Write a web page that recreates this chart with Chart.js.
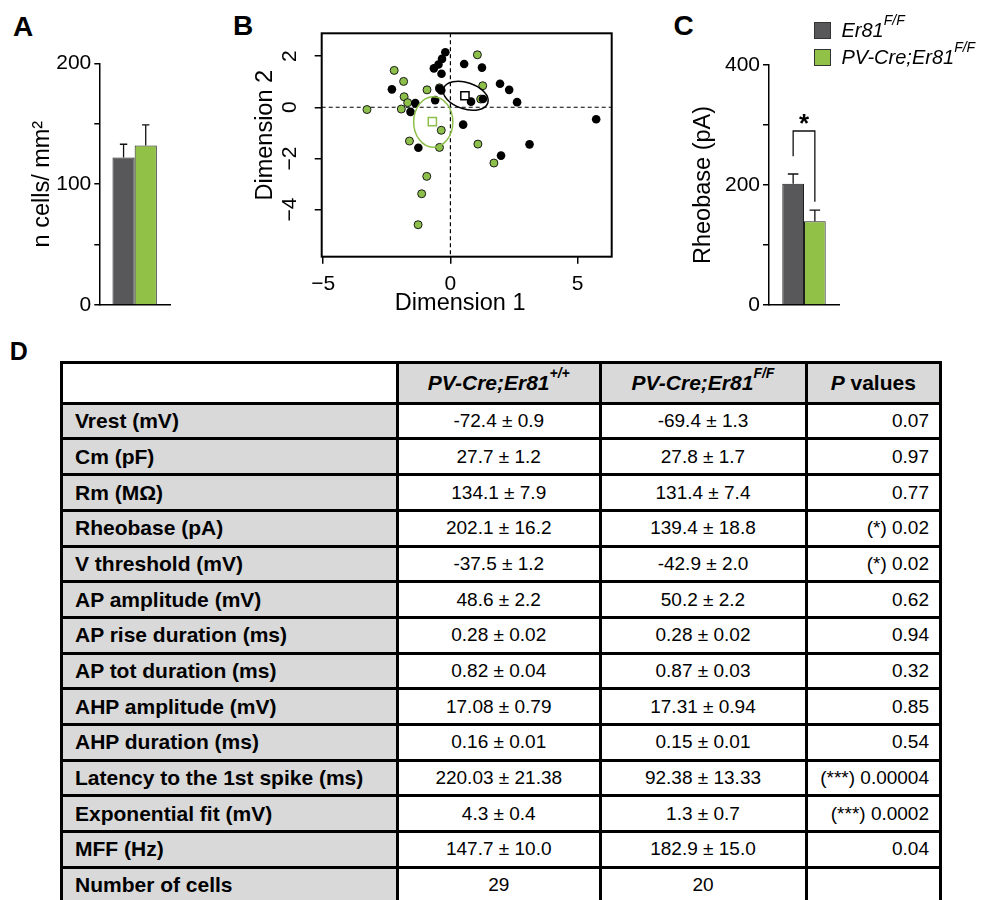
<!DOCTYPE html>
<html>
<head>
<meta charset="utf-8">
<script src="https://cdn.jsdelivr.net/npm/chart.js@4.4.1/dist/chart.umd.min.js"></script>
<style>
  html, body { margin:0; padding:0; background:#fff; width:990px; height:900px; overflow:hidden;
    font-family:"Liberation Sans", Arial, Helvetica, sans-serif; color:#000; }
  canvas { position:absolute; }
  .letter { position:absolute; font-weight:bold; font-size:28px; line-height:28px; }
  .legsq { position:absolute; width:17px; height:17px; box-sizing:border-box; border:1px solid #333; }
  .legtx { position:absolute; font-style:italic; font-size:20px; line-height:20px; white-space:nowrap; }
  .sup { font-size:14px; position:relative; top:-12px; }
  #tbl { position:absolute; left:60px; top:360.8px; display:grid; gap:3px; padding:3px; background:#000;
    grid-template-columns: 333px 199.5px 203px 131.5px; grid-template-rows: 38px repeat(14, 32.7px); }
  #tbl div { background:#fff; display:flex; align-items:center; white-space:nowrap; overflow:hidden; }
  #tbl .lab { background:#d9d9d9; font-weight:bold; font-size:21px; padding-left:12px; }
  #tbl .hd { background:#d9d9d9; font-weight:bold; font-style:italic; font-size:21px; justify-content:center; }
  #tbl .hd .sup { font-size:14px; top:-10px; }
  #tbl .val { font-size:19px; justify-content:center; }
  #tbl .pv { font-size:19px; justify-content:flex-end; padding-right:10px; }
</style>
</head>
<body>
<div class="letter" style="left:13px;top:13px">A</div>
<div class="letter" style="left:233px;top:11.5px">B</div>
<div class="letter" style="left:673.5px;top:11.5px">C</div>
<div class="letter" style="left:9.7px;top:339.4px;font-size:25px;line-height:25px">D</div>

<canvas id="cA" width="220" height="330" style="left:0;top:0"></canvas>
<canvas id="cB" width="400" height="330" style="left:220px;top:0"></canvas>
<canvas id="cC" width="330" height="330" style="left:660px;top:0"></canvas>

<div class="legsq" style="left:814px;top:21.5px;background:#58585a"></div>
<div class="legsq" style="left:814px;top:49px;background:#92c148"></div>
<div class="legtx" style="left:841.5px;top:20.4px">Er81<span class="sup">F/F</span></div>
<div class="legtx" style="left:841.5px;top:47.1px">PV-Cre;Er81<span class="sup">F/F</span></div>

<div id="tbl"></div>

<script>
// ---------------- data ----------------
const groups = ['Er81F/F', 'PV-Cre;Er81F/F'];
const densityMean = [122, 132];
const densityErr = [11, 17];
const densityTicks = [0, 50, 100, 150, 200];
const densityTickLabels = [0, 100, 200];

const rheobaseMean = [202.1, 139.4];
const rheobaseErr = [16.2, 18.8];
const rheobaseTicks = [0, 100, 200, 300, 400];
const rheobaseTickLabels = [0, 200, 400];
// significance bracket (values in pA): left end, top, right end
const sigBrackets = [{ from: 0, to: 1, leftEnd: 248, top: 290, rightEnd: 172, label: '*' }];

// panel B : MDS coordinates [Dimension 1, Dimension 2]
const ctrlCells = [
  [-0.20, 2.15], [-0.33, 1.89], [-0.47, 1.67], [-0.65, 1.52], [-0.35, 1.31], [0.54, 1.69],
  [1.24, 1.55], [-2.30, 0.70], [-0.43, 0.72], [-0.36, 0.66], [-0.60, 0.28], [-1.38, 0.16],
  [-1.57, -0.18], [0.81, 0.22], [1.28, 0.32], [1.95, 0.92], [2.31, 0.68], [2.62, 0.20],
  [0.50, -0.68], [-1.26, -1.58], [3.11, -1.45], [1.99, -1.89], [5.73, -0.47]
];
const koCells = [
  [1.06, 2.05], [-2.21, 1.44], [-1.84, 1.01], [-0.92, 0.68], [1.27, 0.84], [-1.82, 0.41],
  [-1.68, 0.18], [-1.93, -0.07], [-3.28, -0.09], [1.19, 0.32], [-0.43, 0.76], [-0.36, -0.90],
  [-1.61, -1.32], [-0.43, -1.57], [1.08, -1.44], [1.71, -2.18], [-0.93, -2.70], [-1.13, -3.38],
  [-1.27, -4.59]
];
const centroids = [[0.57, 0.45], [-0.71, -0.56]];
// confidence ellipses: centre, semi-axes (data units), tilt (deg)
const ellipses = [
  { cx: 0.60, cy: 0.45, a: 0.915, b: 0.514, angle: -18 },
  { cx: -0.675, cy: -0.575, a: 0.77, b: 0.985, angle: 0 }
];
const dimTicksX = [-5, 0, 5];
const dimTicksY = [-4, -2, 0, 2];
const dimRangeX = [-5.06, 6.34];
const dimRangeY = [-5.84, 2.89];

// panel D table
const tableHeader = ['', 'PV-Cre;Er81|+/+', 'PV-Cre;Er81|F/F', 'P values'];
const rowLabels = ['Vrest (mV)', 'Cm (pF)', 'Rm (MΩ)', 'Rheobase (pA)', 'V threshold (mV)', 'AP amplitude (mV)',
  'AP rise duration (ms)', 'AP tot duration (ms)', 'AHP amplitude (mV)', 'AHP duration (ms)',
  'Latency to the 1st spike (ms)', 'Exponential fit (mV)', 'MFF (Hz)', 'Number of cells'];
const ctrlValues = ['-72.4 ± 0.9', '27.7 ± 1.2', '134.1 ± 7.9', '202.1 ± 16.2', '-37.5 ± 1.2', '48.6 ± 2.2',
  '0.28 ± 0.02', '0.82 ± 0.04', '17.08 ± 0.79', '0.16 ± 0.01', '220.03 ± 21.38', '4.3 ± 0.4', '147.7 ± 10.0', '29'];
const koValues = ['-69.4 ± 1.3', '27.8 ± 1.7', '131.4 ± 7.4', '139.4 ± 18.8', '-42.9 ± 2.0', '50.2 ± 2.2',
  '0.28 ± 0.02', '0.87 ± 0.03', '17.31 ± 0.94', '0.15 ± 0.01', '92.38 ± 13.33', '1.3 ± 0.7', '182.9 ± 15.0', '20'];
const pValues = ['0.07', '0.97', '0.77', '(*) 0.02', '(*) 0.02', '0.62', '0.94', '0.32', '0.85', '0.54',
  '(***) 0.00004', '(***) 0.0002', '0.04', ''];

// ---------------- styles ----------------
const DARK = '#58585a';
const GREEN = '#92c148';
const GREEN_PT = '#8dc04a';
const groupColors = [DARK, GREEN];
const FAM = '"Liberation Sans", Arial, Helvetica, sans-serif';
Chart.defaults.font.family = FAM;
Chart.defaults.color = '#000';

// ---------------- plugins ----------------
const errorBars = {
  id: 'errorBars',
  afterDatasetsDraw(chart, args, opts) {
    const ctx = chart.ctx, y = chart.scales.y;
    chart.data.datasets.forEach((ds, i) => {
      const meta = chart.getDatasetMeta(i);
      meta.data.forEach((bar, j) => {
        const yTop = y.getPixelForValue(ds.data[j] + ds.err[j]);
        ctx.save();
        ctx.strokeStyle = '#111'; ctx.lineWidth = 1.3;
        ctx.beginPath();
        ctx.moveTo(bar.x, bar.y); ctx.lineTo(bar.x, yTop);
        ctx.moveTo(bar.x - opts.cap, yTop); ctx.lineTo(bar.x + opts.cap, yTop);
        ctx.stroke();
        ctx.restore();
      });
    });
  }
};

const sigPlugin = {
  id: 'sigBracket',
  afterDatasetsDraw(chart, args, opts) {
    const ctx = chart.ctx, y = chart.scales.y;
    (opts.brackets || []).forEach(b => {
      const x1 = chart.getDatasetMeta(b.from).data[0].x;
      const x2 = chart.getDatasetMeta(b.to).data[0].x;
      const yT = y.getPixelForValue(b.top);
      ctx.save();
      ctx.strokeStyle = '#111'; ctx.lineWidth = 1.3;
      ctx.beginPath();
      ctx.moveTo(x1, y.getPixelForValue(b.leftEnd));
      ctx.lineTo(x1, yT); ctx.lineTo(x2, yT);
      ctx.lineTo(x2, y.getPixelForValue(b.rightEnd));
      ctx.stroke();
      ctx.fillStyle = '#000';
      ctx.font = 'bold 26px ' + FAM;
      ctx.textAlign = 'center'; ctx.textBaseline = 'alphabetic';
      ctx.fillText(b.label, (x1 + x2) / 2, yT + 1);
      ctx.restore();
    });
  }
};

const scatterDecor = {
  id: 'scatterDecor',
  beforeDatasetsDraw(chart) {
    const {ctx, chartArea: ca, scales: {x, y}} = chart;
    ctx.save();
    ctx.strokeStyle = '#000'; ctx.lineWidth = 1.2; ctx.setLineDash([4, 3]);
    ctx.beginPath();
    const px = x.getPixelForValue(0), py = y.getPixelForValue(0);
    ctx.moveTo(px, ca.top); ctx.lineTo(px, ca.bottom);
    ctx.moveTo(ca.left, py); ctx.lineTo(ca.right, py);
    ctx.stroke();
    ctx.restore();
  },
  afterDatasetsDraw(chart, args, opts) {
    const {ctx, chartArea: ca, scales: {x, y}} = chart;
    const ux = Math.abs(x.getPixelForValue(1) - x.getPixelForValue(0));
    const uy = Math.abs(y.getPixelForValue(1) - y.getPixelForValue(0));
    ellipses.forEach((e, i) => {
      ctx.save();
      ctx.strokeStyle = opts.colors[i]; ctx.lineWidth = 1.5;
      ctx.beginPath();
      ctx.ellipse(x.getPixelForValue(e.cx), y.getPixelForValue(e.cy), e.a * ux, e.b * uy,
        -e.angle * Math.PI / 180, 0, 2 * Math.PI);
      ctx.stroke();
      ctx.restore();
    });
    ctx.save();
    ctx.strokeStyle = '#000'; ctx.lineWidth = 2;
    ctx.strokeRect(ca.left, ca.top, ca.right - ca.left, ca.bottom - ca.top);
    ctx.restore();
  }
};

// ---------------- bar chart factory ----------------
function barChart(id, means, errs, ticks, tickLabels, max, title, pad, yWidth, tickLen, cap, catPct, extraPlugins, pluginOpts) {
  return new Chart(document.getElementById(id), {
    type: 'bar',
    data: {
      labels: [''],
      datasets: groups.map((g, i) => ({
        label: g, data: [means[i]], err: [errs[i]],
        backgroundColor: groupColors[i], borderColor: '#1e1e1e', borderWidth: 1,
        barPercentage: 1, categoryPercentage: catPct
      }))
    },
    options: {
      responsive: false, animation: false, events: [],
      layout: { padding: pad },
      plugins: Object.assign({ legend: { display: false }, tooltip: { enabled: false }, errorBars: { cap } }, pluginOpts || {}),
      scales: {
        x: {
          grid: { display: false }, ticks: { display: false },
          border: { display: true, color: '#000', width: 1.5 },
          afterFit(s) { s.height = 0; }
        },
        y: {
          min: 0, max: max,
          afterBuildTicks(s) { s.ticks = ticks.map(v => ({ value: v })); },
          ticks: { autoSkip: false, padding: 3, color: '#000', font: { size: 21 },
            callback: v => tickLabels.includes(v) ? String(v) : '' },
          grid: { drawOnChartArea: false, drawTicks: true, tickLength: tickLen, color: '#000', lineWidth: 1.5 },
          border: { display: true, color: '#000', width: 1.5 },
          title: { display: true, text: title, color: '#000', font: { size: 23.5 }, padding: 0 },
          afterFit(s) { s.width = yWidth; }
        }
      }
    },
    plugins: [errorBars].concat(extraPlugins || [])
  });
}

barChart('cA', densityMean, densityErr, densityTicks, densityTickLabels, 200, 'n cells/ mm²',
  { left: 28.5, right: 50, top: 63.3, bottom: 25 }, 70.8, 5, 3.7, 0.627);

barChart('cC', rheobaseMean, rheobaseErr, rheobaseTicks, rheobaseTickLabels, 400, 'Rheobase (pA)',
  { left: 29.6, right: 151, top: 65, bottom: 25 }, 79.4, 6, 5.3, 0.62, [sigPlugin], { sigBracket: { brackets: sigBrackets } });

// ---------------- scatter (B) ----------------
const minus = v => String(v).replace('-', '\u2212');
new Chart(document.getElementById('cB'), {
  type: 'scatter',
  data: {
    datasets: [
      { label: 'centroids', data: centroids.map(p => ({ x: p[0], y: p[1] })), pointStyle: 'rect',
        pointRadius: 5.8, backgroundColor: '#fff', borderColor: ['#000', GREEN_PT], borderWidth: 1.5, order: 0 },
      { label: groups[0], data: ctrlCells.map(p => ({ x: p[0], y: p[1] })), pointRadius: 4.3,
        backgroundColor: '#000', borderColor: '#000', borderWidth: 0, order: 1 },
      { label: groups[1], data: koCells.map(p => ({ x: p[0], y: p[1] })), pointRadius: 4,
        backgroundColor: GREEN_PT, borderColor: '#1a1a1a', borderWidth: 1, order: 2 }
    ]
  },
  options: {
    responsive: false, animation: false, events: [],
    layout: { padding: { left: 31.1, right: 8.3, top: 33.3, bottom: 12.3 } },
    plugins: { legend: { display: false }, tooltip: { enabled: false }, scatterDecor: { colors: ['#000', GREEN_PT] } },
    scales: {
      x: {
        type: 'linear', min: dimRangeX[0], max: dimRangeX[1],
        afterBuildTicks(s) { s.ticks = dimTicksX.map(v => ({ value: v })); },
        ticks: { autoSkip: false, padding: 8.1, color: '#000', font: { size: 21 }, callback: minus, maxRotation: 0 },
        grid: { drawOnChartArea: false, drawTicks: true, tickLength: 7, color: '#000', lineWidth: 1.5 },
        border: { display: false },
        title: { display: true, text: 'Dimension 1  ', color: '#000', font: { size: 23.5 }, padding: 0 },
        afterFit(s) { s.height = 61; }
      },
      y: {
        type: 'linear', min: dimRangeY[0], max: dimRangeY[1],
        afterBuildTicks(s) { s.ticks = dimTicksY.map(v => ({ value: v })); },
        ticks: { autoSkip: false, padding: 12.7, color: '#000', font: { size: 21 }, callback: minus,
          minRotation: 90, maxRotation: 90, crossAlign: 'center' },
        grid: { drawOnChartArea: false, drawTicks: true, tickLength: 7, color: '#000', lineWidth: 1.5 },
        border: { display: false },
        title: { display: true, text: '   Dimension 2', color: '#000', font: { size: 23.5 }, padding: 0 },
        afterFit(s) { s.width = 70.6; }
      }
    }
  },
  plugins: [scatterDecor]
});

// ---------------- table (D) ----------------
const tbl = document.getElementById('tbl');
function cell(cls, html) { const d = document.createElement('div'); if (cls) d.className = cls; d.innerHTML = html; tbl.appendChild(d); }
tableHeader.forEach((h, i) => {
  if (i === 0) { cell('', ''); return; }
  if (h.includes('|')) { const [a, b] = h.split('|'); cell('hd', a + '<span class="sup">' + b + '</span>'); }
  else { cell('hd', '<span>P</span>&nbsp;<span style="font-style:normal">values</span>'); }
});
rowLabels.forEach((r, i) => {
  cell('lab', r);
  cell('val', ctrlValues[i]);
  cell('val', koValues[i]);
  cell('pv', pValues[i]);
});
</script>
</body>
</html>
